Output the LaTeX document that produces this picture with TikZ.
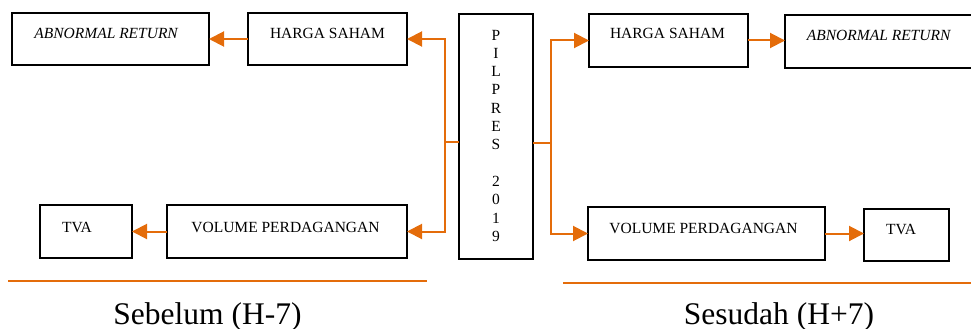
\documentclass[tikz,border=0pt]{standalone}
\usepackage{fontspec}
\setmainfont{Liberation Serif}
\usetikzlibrary{arrows.meta}
\definecolor{flow}{RGB}{228,108,10}
\begin{document}
\begin{tikzpicture}[x=1pt,y=-1pt,
  box/.style={draw=black,line width=1.3pt,inner sep=0pt,outer sep=0pt},
  lbl/.style={anchor=base,inner sep=0pt,font=\fontsize{15.5}{18}\selectfont},
  link/.style={draw=flow,line width=2pt},
  arr/.style={link,-{Triangle[length=15pt,width=15pt]}},
  rule/.style={draw=flow,line width=1.5pt},
  period/.style={anchor=base,inner sep=0pt,font=\fontsize{31.5}{36}\selectfont}]
\useasboundingbox (0,0) rectangle (971,329);

% left branch: before the election
\node[box,minimum width=197pt,minimum height=52pt] (abL) at (110.5,39) {};
\node[box,minimum width=159pt,minimum height=52pt] (hsL) at (327.5,39) {};
\node[box,minimum width=92pt,minimum height=53pt] (tvL) at (86,231.5) {};
\node[box,minimum width=240pt,minimum height=53pt] (vpL) at (287,231.5) {};

% central event, one letter per line (base anchor is the last line)
\node[box,minimum width=74pt,minimum height=245pt] (pil) at (496,136.5) {};
\node[anchor=base,inner sep=0pt,align=center,
      font=\fontsize{15.5}{18.3}\selectfont] (pilT) at (496,241.3)
      {P\\I\\L\\P\\R\\E\\S\\[18.3pt]2\\0\\1\\9};

% right branch: after the election
\node[box,minimum width=159pt,minimum height=53pt] (hsR) at (668.5,40.5) {};
\node[box,minimum width=190pt,minimum height=53pt] (abR) at (880,41.5) {};
\node[box,minimum width=237pt,minimum height=53pt] (vpR) at (706.5,233.5) {};
\node[box,minimum width=85pt,minimum height=52pt] (tvR) at (906.5,235) {};

% box captions, set near the top of each box
\node[lbl] (abLt) at ([xshift=-4pt,yshift=-26pt]abL.north) {\textit{ABNORMAL RETURN}};
\node[lbl] (hsLt) at ([yshift=-26pt]hsL.north) {HARGA SAHAM};
\node[lbl] (tvLt) at ([xshift=-9pt,yshift=-27pt]tvL.north) {TVA};
\node[lbl] (vpLt) at ([xshift=-1.5pt,yshift=-27pt]vpL.north) {VOLUME PERDAGANGAN};
\node[lbl] (hsRt) at ([xshift=-1pt,yshift=-25pt]hsR.north) {HARGA SAHAM};
\node[lbl] (abRt) at ([xshift=-1pt,yshift=-26pt]abR.north) {\textit{ABNORMAL RETURN}};
\node[lbl] (vpRt) at ([xshift=-3pt,yshift=-26pt]vpR.north) {VOLUME PERDAGANGAN};
\node[lbl] (tvRt) at ([xshift=-5.5pt,yshift=-25pt]tvR.north) {TVA};

% connectors
\coordinate (jl) at (445,142);
\coordinate (jr) at (551,143);
\draw[link] (pil.west |- jl) -- (jl);
\draw[arr] (jl) |- (hsL.east);
\draw[arr] (jl) |- (vpL.east);
\draw[arr] (hsL.west) -- (abL.east);
\draw[arr] (vpL.west) -- (tvL.east);

\draw[link] (pil.east |- jr) -- (jr);
\draw[arr] (jr) |- (hsR.west);
\draw[arr] (jr) |- (vpR.west);
\draw[arr] (hsR.east) -- (hsR.east -| abR.west);
\draw[arr] (vpR.east) -- (vpR.east -| tvR.west);

% period rules and captions
\coordinate (rl1) at (8,281);
\coordinate (rl2) at (427,281);
\coordinate (rr1) at (563,283);
\coordinate (rr2) at (975,283);
\draw[rule] (rl1) -- (rl2);
\draw[rule] (rr1) -- (rr2);
\node[period] (before) at (207.5,324) {Sebelum (H-7)};
\node[period] (after) at (779,324) {Sesudah (H+7)};
\end{tikzpicture}
\end{document}
